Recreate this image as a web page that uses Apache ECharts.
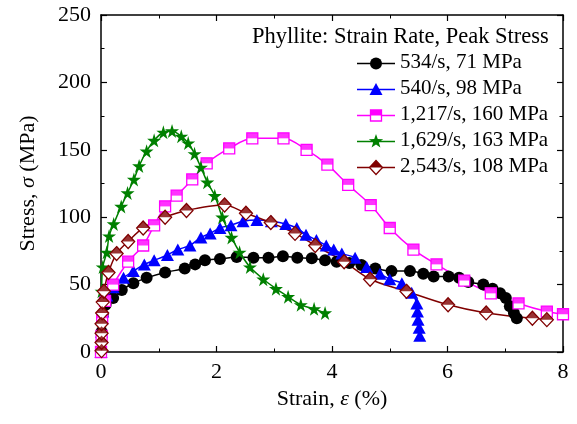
<!DOCTYPE html>
<html><head><meta charset="utf-8">
<script src="https://cdn.jsdelivr.net/npm/echarts@6/dist/echarts.min.js"></script>
<style>html,body{margin:0;padding:0;background:#fff}#c{width:577px;height:424px}</style>
</head><body><div id="c"></div>
<script>
// ---- data (strain %, stress MPa) ----
const blackName = '534/s, 71 MPa';
const blackStrain = [0,0.01,0.03,0.08,0.21,0.36,0.56,0.79,1.11,1.45,1.63,1.80,2.06,2.35,2.64,2.90,3.15,3.40,3.65,3.88,4.08,4.30,4.51,4.75,5.03,5.35,5.58,5.76,6.02,6.20,6.36,6.62,6.78,6.91,7.01,7.08,7.15,7.20];
const blackStress = [0,15,28,35,40,46,51,55,59,62,65,68,69,70.5,70,70,71,70,69.5,68,67,66,64.5,62,60,60,58,56,56,55,52,50,47,43.5,40,34,29,25];

const blueName = '540/s, 98 MPa';
const blueStrain = [0,0.01,0.03,0.1,0.21,0.39,0.56,0.75,0.92,1.15,1.33,1.54,1.73,1.89,2.06,2.25,2.46,2.70,2.95,3.20,3.39,3.55,3.73,3.90,4.03,4.17,4.40,4.60,4.83,5.00,5.21,5.38,5.47,5.48,5.49,5.51,5.52];
const blueStress = [0,15,30,42,48,55,60,65,68,72,76,79,85,88,92,94,97,98,97,95,92,87,83,79,76,73,70,63,58,54,51,44,36,30,24,18,12];

const pinkName = '1,217/s, 160 MPa';
const pinkStrain = [0,0.01,0.02,0.07,0.21,0.47,0.73,0.92,1.11,1.31,1.58,1.83,2.22,2.62,3.16,3.56,3.92,4.28,4.67,5.00,5.41,5.81,6.29,6.75,7.23,7.72,8.0];
const pinkStress = [0,12,25,38,50,67,79,94,108,116,128,140,151,158.5,158.5,150,139,124,109,92,76,65,53,43.5,36,30,28];

const greenName = '1,629/s, 163 MPa';
const greenStrain = [0.01,0.03,0.1,0.14,0.22,0.35,0.46,0.57,0.66,0.79,0.92,1.08,1.23,1.39,1.51,1.62,1.73,1.84,1.97,2.10,2.26,2.40,2.58,2.81,3.03,3.24,3.46,3.69,3.88];
const greenStress = [45,63,74,86,95,108,118,128,138,149,157,163,164,160,155,147,137,126,116,100,85,74,63,54,47,41,35,32,29];

const redName = '2,543/s, 108 MPa';
const redStrain = [0.01,0.01,0.01,0.01,0.02,0.03,0.05,0.13,0.27,0.47,0.73,1.11,1.48,2.14,2.51,2.94,3.36,3.71,4.21,4.66,5.29,6.01,6.67,7.47,7.72];
const redStress = [1,7,14,21,29,37,45,59,73,82,92,100,105,109,103,96,88,79,67,54,45,35,29,25,24];

const xTicks = [0,2,4,6,8];
const yTicks = [0,50,100,150,200,250];
const legendTitle = 'Phyllite: Strain Rate, Peak Stress';

const zip = (a,b) => a.map((v,i)=>[v,b[i]]);
const FONT = 'Liberation Serif';
const STAR = 'path://M50,0 L61,35 L98,35 L68,57 L79,91 L50,70 L21,91 L32,57 L2,35 L39,35 Z';

function lineSeries(name, data, color, symbol, size, extra) {
  return Object.assign({
    name, type: 'line', data, smooth: 0.3,
    symbol, symbolSize: size, showSymbol: true,
    lineStyle: { color, width: 1.5 },
    itemStyle: { color, borderColor: color, borderWidth: 0 },
    emphasis: { disabled: true }, animation: false, z: 3
  }, extra || {});
}
function halfSeries(data, color, path, size, off) {
  return { type: 'scatter', data, symbol: path, symbolSize: size, symbolOffset: [0, off],
    itemStyle: { color }, emphasis: { disabled: true }, animation: false, z: 3, silent: true };
}

const series = [
  lineSeries(blackName, zip(blackStrain, blackStress), '#000000', 'circle', 12),
  lineSeries(blueName, zip(blueStrain, blueStress), '#0000ff', 'triangle', [13,12]),
  lineSeries(pinkName, zip(pinkStrain, pinkStress), '#ff00ff', 'rect', 11,
    { itemStyle: { color: '#ffffff', borderColor: '#ff00ff', borderWidth: 1.3 } }),
  halfSeries(zip(pinkStrain, pinkStress), '#ff00ff', 'path://M0,0 L10,0 L10,5 L0,5 Z', [11,5.5], -2.75),
  lineSeries(greenName, zip(greenStrain, greenStress), '#008000', STAR, 14),
  lineSeries(redName, zip(redStrain, redStress), '#800000', 'diamond', [13,14],
    { itemStyle: { color: '#ffffff', borderColor: '#800000', borderWidth: 1.3 } }),
  halfSeries(zip(redStrain, redStress), '#800000', 'path://M0,10 L10,0 L20,10 Z', [13,7], -3.5)
];

// ---- legend drawn as graphic ----
const legendRows = [
  { name: blackName, color: '#000000', shape: 'circle' },
  { name: blueName, color: '#0000ff', shape: 'triangle' },
  { name: pinkName, color: '#ff00ff', shape: 'square' },
  { name: greenName, color: '#008000', shape: 'star' },
  { name: redName, color: '#800000', shape: 'diamond' }
];
const graphics = [{ type: 'text', left: 252, top: 26, style: { text: legendTitle, font: '22.5px "Liberation Serif"', fill: '#000' } }];
legendRows.forEach((r, i) => {
  const cy = 63.5 + i * 26, cx = 376;
  graphics.push({ type: 'line', shape: { x1: 357, y1: cy, x2: 395, y2: cy }, style: { stroke: r.color, lineWidth: 1.5 } });
  if (r.shape === 'circle') graphics.push({ type: 'circle', shape: { cx, cy, r: 6 }, style: { fill: r.color } });
  if (r.shape === 'triangle') graphics.push({ type: 'polygon', shape: { points: [[cx, cy-6.5],[cx+6.5, cy+5.5],[cx-6.5, cy+5.5]] }, style: { fill: r.color } });
  if (r.shape === 'square') {
    graphics.push({ type: 'rect', shape: { x: cx-5.5, y: cy-5.5, width: 11, height: 11 }, style: { fill: '#fff', stroke: r.color, lineWidth: 1.3 } });
    graphics.push({ type: 'rect', shape: { x: cx-5.5, y: cy-5.5, width: 11, height: 5.5 }, style: { fill: r.color } });
  }
  if (r.shape === 'star') {
    const pts = [];
    for (let k = 0; k < 10; k++) { const a = -Math.PI/2 + k*Math.PI/5; const rr = k%2 ? 3 : 7.5; pts.push([cx + rr*Math.cos(a), cy + rr*Math.sin(a)]); }
    graphics.push({ type: 'polygon', shape: { points: pts }, style: { fill: r.color } });
  }
  if (r.shape === 'diamond') {
    graphics.push({ type: 'polygon', shape: { points: [[cx, cy-7],[cx+6.5, cy],[cx, cy+7],[cx-6.5, cy]] }, style: { fill: '#fff', stroke: r.color, lineWidth: 1.3 } });
    graphics.push({ type: 'polygon', shape: { points: [[cx, cy-7],[cx+6.5, cy],[cx-6.5, cy]] }, style: { fill: r.color } });
  }
  graphics.push({ type: 'text', left: 400, top: cy - 12, style: { text: r.name, font: '21px "Liberation Serif"', fill: '#000' } });
});

const axisLine = { show: true, onZero: false, lineStyle: { color: '#000', width: 1.5 } };
const tick = { show: true, inside: true, length: 6, lineStyle: { color: '#000', width: 1.2 } };
const minor = { show: true, splitNumber: 2, length: 3.5, lineStyle: { color: '#000', width: 1 } };
const labelStyle = { fontFamily: FONT, fontSize: 22, color: '#000' };

const option = {
  backgroundColor: '#fff',
  animation: false,
  grid: { left: 101, right: 14, top: 15, bottom: 72 },
  xAxis: [{
    type: 'value', min: xTicks[0], max: xTicks[xTicks.length-1], interval: 2,
    axisLine, axisTick: tick, minorTick: minor, splitLine: { show: false },
    axisLabel: Object.assign({ margin: 9 }, labelStyle),
    name: 'Strain, {i|ε} (%)', nameLocation: 'middle', nameGap: 36,
    nameTextStyle: { fontFamily: FONT, fontSize: 22, color: '#000', rich: { i: { fontFamily: FONT, fontStyle: 'italic', fontSize: 22 } } }
  }, {
    type: 'value', position: 'top', min: 0, max: 8, interval: 2,
    axisLine, axisTick: tick, minorTick: minor, splitLine: { show: false }, axisLabel: { show: false }
  }],
  yAxis: [{
    type: 'value', min: yTicks[0], max: yTicks[yTicks.length-1], interval: 50,
    axisLine, axisTick: tick, minorTick: minor, splitLine: { show: false },
    axisLabel: Object.assign({ margin: 10 }, labelStyle),
    name: 'Stress, {i|σ} (MPa)', nameLocation: 'middle', nameGap: 62,
    nameTextStyle: { fontFamily: FONT, fontSize: 22, color: '#000', rich: { i: { fontFamily: FONT, fontStyle: 'italic', fontSize: 22 } } }
  }, {
    type: 'value', position: 'right', min: 0, max: 250, interval: 50,
    axisLine, axisTick: tick, minorTick: minor, splitLine: { show: false }, axisLabel: { show: false }
  }],
  series,
  graphic: graphics
};
const chart = echarts.init(document.getElementById('c'), null, { renderer: 'canvas' });
chart.setOption(option);
</script>
</body></html>
